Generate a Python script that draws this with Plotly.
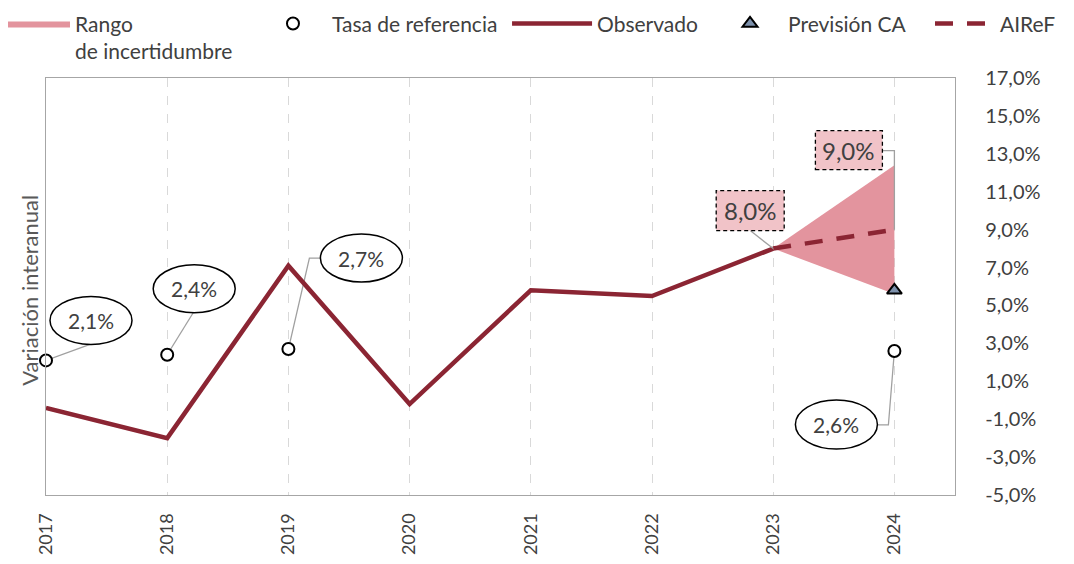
import plotly.graph_objects as go

# ---------------- data ----------------
years = [2017, 2018, 2019, 2020, 2021, 2022, 2023, 2024]
obs_years = [2017, 2018, 2019, 2020, 2021, 2022, 2023]
observado = [-0.4, -2.0, 7.1, -0.2, 5.8, 5.5, 8.0]

proj_years = [2023, 2024]
airef = [8.0, 9.0]
range_lower = [8.0, 5.6]
range_upper = [8.0, 12.4]

ref_years = [2017, 2018, 2019, 2024]
tasa_ref = [2.1, 2.4, 2.7, 2.6]

ca_years = [2024]
prevision_ca = [5.8]

y_ticks = [-5, -3, -1, 1, 3, 5, 7, 9, 11, 13, 15, 17]
y_ticktext = [f"{v:.1f}%".replace(".", ",") for v in y_ticks]

# ---------------- styles ----------------
FONT = "Lato"
TXT = "#404040"
RED = "#8B2533"
PINK = "#E3949E"
PINK_LIGHT = "#F1C3C8"
GRID = "#D9D9D9"
AXIS = "#A6A6A6"

fig = go.Figure()

# uncertainty range polygon
fig.add_trace(go.Scatter(
    x=proj_years + proj_years[::-1],
    y=range_upper + range_lower[::-1],
    fill="toself", fillcolor=PINK, mode="lines",
    line=dict(width=0, color=PINK),
    name="Rango<br>de incertidumbre", legend="legend",
    hoverinfo="skip", showlegend=True,
))
fig.add_trace(go.Scatter(
    x=obs_years, y=observado, mode="lines",
    line=dict(color=RED, width=4.5),
    name="Observado", legend="legend3",
))
fig.add_trace(go.Scatter(
    x=proj_years, y=airef, mode="lines",
    line=dict(color=RED, width=4.5, dash="18px,14px"),
    name="AIReF", legend="legend5",
))
fig.add_trace(go.Scatter(
    x=ref_years, y=tasa_ref, mode="markers", cliponaxis=False,
    marker=dict(symbol="circle", size=12, color="white",
                line=dict(color="black", width=2)),
    name="Tasa de referencia", legend="legend2",
))
fig.add_trace(go.Scatter(
    x=ca_years, y=prevision_ca, mode="markers", cliponaxis=False,
    marker=dict(symbol="triangle-up", size=13, color="#7D91AC",
                line=dict(color="black", width=2)),
    name="Previsión CA", legend="legend4",
))

shapes = []
annotations = []

def pix_shape(kind, xa, ya, **kw):
    d = dict(type=kind, xref="x", yref="y", xsizemode="pixel", ysizemode="pixel",
             xanchor=xa, yanchor=ya)
    d.update(kw)
    return d

# label specs for reference-rate bubbles: (ellipse dx0, dx1, dy0, dy1, connector path)
bubble_specs = {
    2017: (4, 86, 16, 64, "M0,0 L44,16"),
    2018: (-14, 68, 42, 90, "M0,0 L26,42"),
    2019: (32, 114, 67, 115, "M0,0 L21,91 L32,91"),
    2024: (-99, -17, -98, -49, "M0,0 L-6,-74 L-17,-74"),
}
for yr, val in zip(ref_years, tasa_ref):
    ex0, ex1, ey0, ey1, path = bubble_specs[yr]
    shapes.append(pix_shape("path", yr, val, path=path,
                            line=dict(color="#A0A0A0", width=1.3), layer="between"))
    shapes.append(pix_shape("circle", yr, val, x0=ex0, x1=ex1, y0=ey0, y1=ey1,
                            fillcolor="white", line=dict(color="black", width=1.5),
                            layer="above"))
    annotations.append(dict(
        x=yr, y=val, xref="x", yref="y", showarrow=False,
        text=f"{val:.1f}%".replace(".", ","),
        xshift=(ex0 + ex1) / 2, yshift=(ey0 + ey1) / 2,
        font=dict(family=FONT, size=21, color=TXT),
    ))

# AIReF value boxes
box_specs = {
    2023: (-57, 11, 18, 58, "M0,0 L-23,18"),
    2024: (-79, -12, 60, 99, "M0,0 L0,79 L-12,79"),
}
for yr, val in zip(proj_years, airef):
    bx0, bx1, by0, by1, path = box_specs[yr]
    shapes.append(pix_shape("path", yr, val, path=path,
                            line=dict(color="#A0A0A0", width=1.3), layer="above"))
    shapes.append(pix_shape("rect", yr, val, x0=bx0, x1=bx1, y0=by0, y1=by1,
                            fillcolor=PINK_LIGHT,
                            line=dict(color="black", width=1.3, dash="4px,3px"),
                            layer="above"))
    annotations.append(dict(
        x=yr, y=val, xref="x", yref="y", showarrow=False,
        text=f"{val:.1f}%".replace(".", ","),
        xshift=(bx0 + bx1) / 2, yshift=(by0 + by1) / 2,
        font=dict(family=FONT, size=24, color=TXT),
    ))

# y-axis title (left side while tick labels sit on the right)
annotations.append(dict(
    x=-0.0176, y=0.49, xref="paper", yref="paper", showarrow=False,
    xanchor="center", yanchor="middle",
    text="Variación interanual", textangle=-90,
    font=dict(family=FONT, size=22, color="#595959"),
))

def leg(x, itemwidth):
    return dict(orientation="h", yanchor="top", xanchor="left", x=x, y=1.179,
                bgcolor="rgba(0,0,0,0)",
                font=dict(family=FONT, size=21, color=TXT),
                valign="top", itemwidth=itemwidth)

# page body has an 8px margin: shrink the figure so it fits the window and
# shift the margins so the plot area lands where the reference has it
fig.update_layout(
    width=1058, height=548,
    margin=dict(l=38, r=111, t=70, b=61, autoexpand=False),
    paper_bgcolor="white", plot_bgcolor="white",
    showlegend=True,
    font=dict(family=FONT, size=18, color=TXT),
    shapes=shapes, annotations=annotations,
    legend=leg(-0.0473, 62),
    legend2=leg(0.2288, 68),
    legend3=leg(0.5072, 80),
    legend4=leg(0.7327, 66),
    legend5=leg(0.9725, 60),
    xaxis=dict(
        range=[2017, 2024.5], tickmode="array", tickvals=years,
        ticktext=[str(y) for y in years], tickangle=-90,
        showgrid=True, gridcolor=GRID, gridwidth=1, griddash="dash",
        zeroline=False, showline=True, linecolor=AXIS, linewidth=1.3, mirror=True,
        ticks="", ticklabelstandoff=10,
        tickfont=dict(family=FONT, size=18, color=TXT),
    ),
    yaxis=dict(
        range=[-5, 17], side="right", tickmode="array", tickvals=y_ticks,
        ticktext=y_ticktext,
        showgrid=False, zeroline=False, showline=True, linecolor=AXIS,
        linewidth=1.3, mirror=True, ticks="", ticklabelstandoff=25,
        tickfont=dict(family=FONT, size=20, color=TXT),
    ),
)

fig.write_html("out.html")
